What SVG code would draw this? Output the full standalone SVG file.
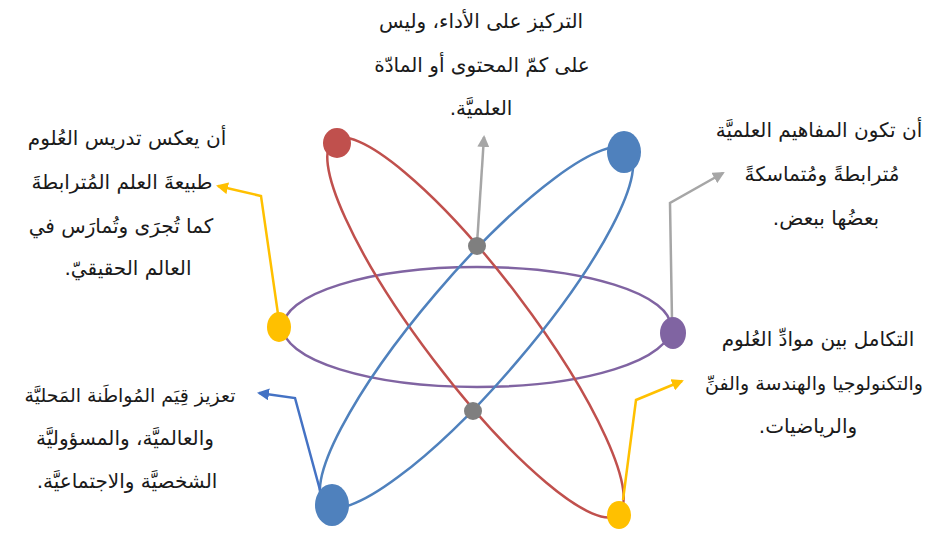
<svg xmlns="http://www.w3.org/2000/svg" width="925" height="534" viewBox="0 0 925 534">
  <style>
    .orbit { fill: none; stroke-width: 2.5; }
    .lbl { font-family: "DejaVu Sans", "Noto Sans", sans-serif; font-size: 20px; fill: #1a1a1a; text-anchor: middle; direction: rtl; unicode-bidi: embed; }
    .tight { font-size: 19px; }
    .conn { fill: none; stroke-width: 2.5; stroke-linejoin: miter; }
  </style>
  <defs>
    <marker id="arrGray" viewBox="0 0 12 12" refX="10" refY="6" markerWidth="12" markerHeight="12" markerUnits="userSpaceOnUse" orient="auto">
      <path d="M0,0 L12,6 L0,12 Z" fill="#a6a6a6"/>
    </marker>
    <marker id="arrYellow" viewBox="0 0 12 12" refX="10" refY="6" markerWidth="12" markerHeight="12" markerUnits="userSpaceOnUse" orient="auto">
      <path d="M0,0 L12,6 L0,12 Z" fill="#ffc000"/>
    </marker>
    <marker id="arrBlue" viewBox="0 0 12 12" refX="10" refY="6" markerWidth="12" markerHeight="12" markerUnits="userSpaceOnUse" orient="auto">
      <path d="M0,0 L12,6 L0,12 Z" fill="#4472c4"/>
    </marker>
  </defs>

  <!-- orbits -->
  <g id="orbits">
    <ellipse class="orbit" cx="477" cy="327" rx="194" ry="60" stroke="#8064a2"/>
    <ellipse class="orbit" cx="475.5" cy="327.5" rx="235" ry="53" stroke="#c0504d" transform="rotate(52.8 475.5 327.5)"/>
    <ellipse class="orbit" cx="476.5" cy="327.5" rx="233" ry="53" stroke="#4f81bd" transform="rotate(-49.5 476.5 327.5)"/>
  </g>

  <!-- connectors -->
  <g id="connectors">
    <polyline class="conn" stroke="#a6a6a6" points="477,244 484,137" marker-end="url(#arrGray)"/>
    <polyline class="conn" stroke="#a6a6a6" points="672,320 670,203 723,173" marker-end="url(#arrGray)"/>
    <polyline class="conn" stroke="#ffc000" points="278,314 261,196 218,186" marker-end="url(#arrYellow)"/>
    <polyline class="conn" stroke="#4472c4" points="320,490 295,398 259,393" marker-end="url(#arrBlue)"/>
    <polyline class="conn" stroke="#ffc000" points="623,500 636,400 682,381" marker-end="url(#arrYellow)"/>
  </g>

  <!-- dots -->
  <g id="dot-red"><ellipse cx="337" cy="143" rx="14" ry="15" fill="#c0504d"/></g>
  <g id="dot-blue-top"><ellipse cx="624" cy="152" rx="17" ry="21" fill="#4f81bd"/></g>
  <g id="dot-gray-top"><circle cx="477" cy="246" r="9" fill="#7f7f7f"/></g>
  <g id="dot-gray-bottom"><circle cx="473" cy="411" r="9" fill="#7f7f7f"/></g>
  <g id="dot-yellow-left"><ellipse cx="279" cy="327" rx="12" ry="15" fill="#ffc000"/></g>
  <g id="dot-purple"><ellipse cx="673" cy="333" rx="13" ry="16" fill="#8064a2"/></g>
  <g id="dot-blue-bottom"><ellipse cx="332" cy="505" rx="17" ry="21" fill="#4f81bd"/></g>
  <g id="dot-yellow-bottom"><ellipse cx="619" cy="515" rx="12" ry="14" fill="#ffc000"/></g>

  <!-- labels -->
  <g id="label-top">
    <text class="lbl" x="481" y="28">التركيز على الأداء، وليس</text>
    <text class="lbl" x="482" y="72">على كمّ المحتوى أو المادّة</text>
    <text class="lbl" x="481" y="115">العلميَّة.</text>
  </g>
  <g id="label-left-top">
    <text class="lbl" x="127" y="145">أن يعكس تدريس العُلوم</text>
    <text class="lbl" x="122" y="189">طبيعةَ العلم المُترابطةَ</text>
    <text class="lbl" x="121" y="233">كما تُجرَى وتُمارَس في</text>
    <text class="lbl" x="128" y="275">العالم الحقيقيّ.</text>
  </g>
  <g id="label-right-top">
    <text class="lbl" x="819" y="137">أن تكون المفاهيم العلميَّة</text>
    <text class="lbl" x="822" y="181">مُترابطةً ومُتماسكةً</text>
    <text class="lbl" x="826" y="225">بعضُها ببعض.</text>
  </g>
  <g id="label-right-bottom">
    <text class="lbl" x="818" y="346">التكامل بين موادِّ العُلوم</text>
    <text class="lbl tight" x="814" y="390">والتكنولوجيا والهندسة والفنِّ</text>
    <text class="lbl" x="808" y="433">والرياضيات.</text>
  </g>
  <g id="label-left-bottom">
    <text class="lbl tight" x="130" y="402">تعزيز قِيَم المُواطَنة المَحليَّة</text>
    <text class="lbl" x="125" y="445">والعالميَّة، والمسؤوليَّة</text>
    <text class="lbl" x="127" y="488">الشخصيَّة والاجتماعيَّة.</text>
  </g>
</svg>
